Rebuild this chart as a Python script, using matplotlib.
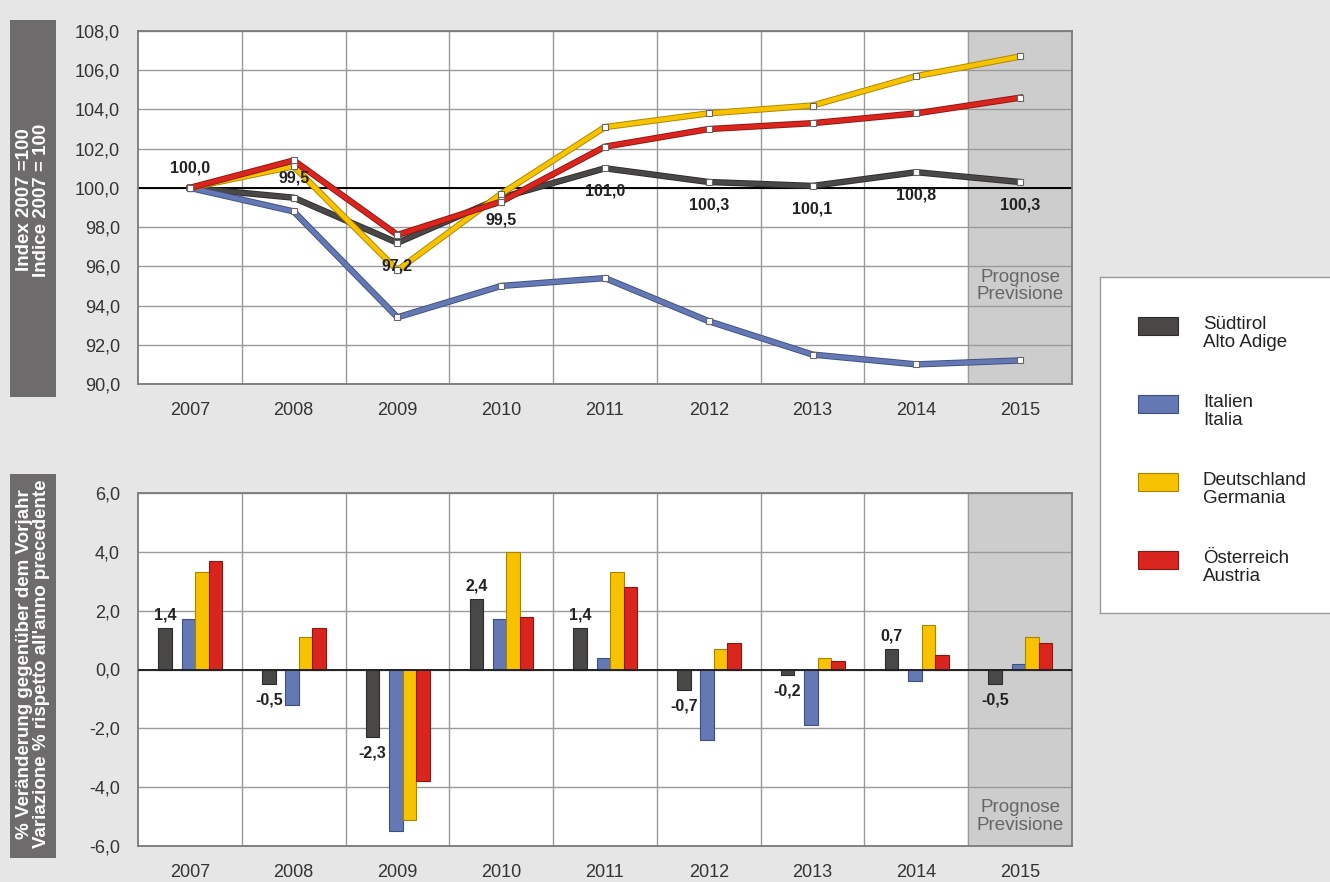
import matplotlib

matplotlib.use("Agg")
import matplotlib.pyplot as plt
import matplotlib.patheffects as pe
import numpy as np
from matplotlib.patches import Rectangle
from matplotlib.ticker import FuncFormatter

plt.rcParams["font.family"] = ["Liberation Sans", "DejaVu Sans"]

years = ["2007", "2008", "2009", "2010", "2011", "2012", "2013", "2014", "2015"]
series = ["Südtirol\nAlto Adige", "Italien\nItalia", "Deutschland\nGermania", "Österreich\nAustria"]

# index 2007 = 100
idx_suedtirol = [100.0, 99.5, 97.2, 99.5, 101.0, 100.3, 100.1, 100.8, 100.3]
idx_italien = [100.0, 98.8, 93.4, 95.0, 95.4, 93.2, 91.5, 91.0, 91.2]
idx_deutschland = [100.0, 101.1, 95.8, 99.7, 103.1, 103.8, 104.2, 105.7, 106.7]
idx_oesterreich = [100.0, 101.4, 97.6, 99.3, 102.1, 103.0, 103.3, 103.8, 104.6]

# % change vs previous year
chg_suedtirol = [1.4, -0.5, -2.3, 2.4, 1.4, -0.7, -0.2, 0.7, -0.5]
chg_italien = [1.7, -1.2, -5.5, 1.7, 0.4, -2.4, -1.9, -0.4, 0.2]
chg_deutschland = [3.3, 1.1, -5.1, 4.0, 3.3, 0.7, 0.4, 1.5, 1.1]
chg_oesterreich = [3.7, 1.4, -3.8, 1.8, 2.8, 0.9, 0.3, 0.5, 0.9]

colors = ["#4a4747", "#6478b4", "#f7c300", "#d9251d"]
edge_colors = ["#2e2b2b", "#3f4f80", "#a88400", "#8f1510"]

# where the Südtirol labels of the index chart sit (above / below the point)
top_label_above = [True, True, False, False, False, False, False, False, False]

W, H = 1330, 882
fig = plt.figure(figsize=(W / 100, H / 100), dpi=100)
fig.patch.set_facecolor("#e6e6e6")


def fx(px):
    return px / W


def fy(px):
    return 1 - px / H


ax1 = fig.add_axes([fx(138), fy(384), fx(1072) - fx(138), fy(31) - fy(384)])
ax2 = fig.add_axes([fx(138), fy(846), fx(1072) - fx(138), fy(493) - fy(846)])

x = np.arange(len(years))
comma = FuncFormatter(lambda v, _: f"{v:.1f}".replace(".", ","))

for ax in (ax1, ax2):
    ax.set_facecolor("white")
    ax.set_xlim(-0.5, len(years) - 0.5)
    ax.axvspan(len(years) - 1.5, len(years) - 0.5, color="#cdcdcd", zorder=0)
    for b in np.arange(0.5, len(years) - 0.5, 1.0):
        ax.axvline(b, color="#9a9a9a", lw=1.0, zorder=1)
    ax.set_xticks(x)
    ax.set_xticklabels(years)
    ax.tick_params(axis="x", length=0, pad=13, labelsize=13, labelcolor="#333333")
    ax.tick_params(axis="y", length=0, pad=13, labelsize=13, labelcolor="#333333")
    ax.yaxis.set_major_formatter(comma)
    ax.grid(True, axis="y", color="#9a9a9a", lw=1.0, zorder=1)
    ax.set_axisbelow(True)
    for s in ax.spines.values():
        s.set_color("#7a7a7a")
        s.set_linewidth(1.3)

# ---- index chart ----
ax1.set_ylim(90, 108)
ax1.set_yticks(np.arange(90, 108.1, 2))
ax1.axhline(100, color="black", lw=1.4, zorder=2)
for vals, c, ec in zip([idx_suedtirol, idx_italien, idx_deutschland, idx_oesterreich], colors, edge_colors):
    ax1.plot(x, vals, color=c, lw=3.3, zorder=3, solid_joinstyle="miter",
             path_effects=[pe.Stroke(linewidth=4.6, foreground=ec), pe.Normal()])
    ax1.plot(x, vals, ls="none", marker="s", ms=4.2, mfc="white", mec="#666666", mew=0.8, zorder=4)

for xi, v, above in zip(x, idx_suedtirol, top_label_above):
    ax1.annotate(f"{v:.1f}".replace(".", ","), xy=(xi, v), xytext=(0, 9 if above else -11),
                 textcoords="offset points", ha="center", va="bottom" if above else "top",
                 fontsize=11.5, fontweight="bold", color="#222222", zorder=5)

ax1.text(len(years) - 1, 95.0, "Prognose\nPrevisione", ha="center", va="center",
         fontsize=13.5, color="#666666", linespacing=1.05, zorder=5)

# ---- change chart ----
ax2.set_ylim(-6, 6)
ax2.set_yticks(np.arange(-6, 6.1, 2))
ax2.axhline(0, color="#222222", lw=1.4, zorder=4)
offsets = [-0.24, -0.015, 0.115, 0.245]
bw = 0.13
for vals, c, ec, off in zip([chg_suedtirol, chg_italien, chg_deutschland, chg_oesterreich], colors, edge_colors, offsets):
    ax2.bar(x + off, vals, width=bw, color=c, edgecolor=ec, lw=0.8, zorder=3)

for xi, v in zip(x, chg_suedtirol):
    ax2.annotate(f"{v:.1f}".replace(".", ","), xy=(xi + offsets[0], v), xytext=(0, 4 if v > 0 else -6),
                 textcoords="offset points", ha="center", va="bottom" if v > 0 else "top",
                 fontsize=11.5, fontweight="bold", color="#222222", zorder=5)

ax2.text(len(years) - 1, -5.0, "Prognose\nPrevisione", ha="center", va="center",
         fontsize=13.5, color="#666666", linespacing=1.05, zorder=5)

# ---- y label boxes ----
fig.patches.append(Rectangle((fx(10), fy(397)), fx(46), fy(20) - fy(397), transform=fig.transFigure,
                             facecolor="#6d6b6b", edgecolor="none"))
fig.text(fx(33), fy(200), "Index 2007 =100\nIndice 2007 = 100", rotation=90, ha="center", va="center",
         color="white", fontsize=13.5, fontweight="bold", linespacing=1.0)
fig.patches.append(Rectangle((fx(10), fy(858)), fx(46), fy(474) - fy(858), transform=fig.transFigure,
                             facecolor="#6d6b6b", edgecolor="none"))
fig.text(fx(33), fy(664), "% Veränderung gegenüber dem Vorjahr\nVariazione % rispetto all'anno precedente",
         rotation=90, ha="center", va="center", color="white", fontsize=13.5, fontweight="bold",
         linespacing=1.0)

# ---- legend ----
lg = fig.add_axes([fx(1100), fy(613), fx(1335) - fx(1100), fy(277) - fy(613)])
lg.set_xlim(0, 235)
lg.set_ylim(336, 0)
lg.set_xticks([])
lg.set_yticks([])
lg.set_facecolor("white")
for s in lg.spines.values():
    s.set_color("#9a9a9a")
    s.set_linewidth(1.0)
for i, (name, c, ec) in enumerate(zip(series, colors, edge_colors)):
    top = 40 + i * 78
    lg.add_patch(Rectangle((38, top), 40, 18, facecolor=c, edgecolor=ec, lw=0.8))
    lg.text(103, top - 1, name, ha="left", va="top", fontsize=13.5, color="#222222", linespacing=1.1)

fig.savefig("out.png", dpi=100, facecolor=fig.get_facecolor())
